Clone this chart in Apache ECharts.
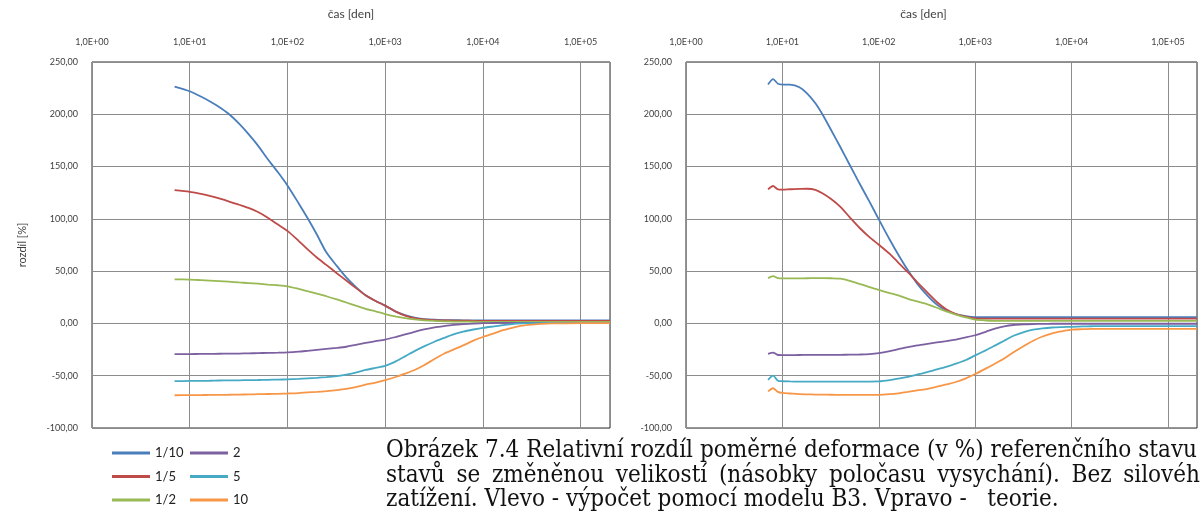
<!DOCTYPE html>
<html>
<head>
<meta charset="utf-8">
<script src="https://cdn.jsdelivr.net/npm/echarts@6/dist/echarts.min.js"></script>
<style>
  html, body { margin: 0; padding: 0; background: #ffffff; overflow: hidden; }
  #chart { width: 1200px; height: 515px; }
</style>
</head>
<body>
<div id="chart"></div>
<script>
// ---- data -------------------------------------------------------------
const SERIES_NAMES = ['1/10', '1/5', '1/2', '2', '5', '10'];
const X_TICK_LABELS = ['1,0E+00', '1,0E+01', '1,0E+02', '1,0E+03', '1,0E+04', '1,0E+05'];

// B3 model (left panel): time in days and relative difference in %
const LEFT_DAYS = [7, 10, 13, 16, 20, 25, 32, 40, 50, 63, 80, 100, 130, 160, 200, 250, 320, 400, 500, 630,
  800, 1000, 1300, 1600, 2000, 2500, 3200, 4000, 5000, 6300, 8000, 10000, 13000, 16000, 20000, 25000,
  32000, 40000, 50000, 100000, 200000];
const LEFT_1_10 = [226.5, 222, 217, 212.5, 207, 200.5, 191, 181, 170, 157, 144.5, 132, 115, 101, 85, 68, 55,
  44, 35, 27, 21.5, 17, 11, 8, 5.5, 4.2, 3.5, 3.2, 3.1, 3, 3, 3, 3, 3, 3, 3, 3, 3, 3, 3, 3];
const LEFT_1_5 = [127.5, 125.9, 124, 122, 119.5, 116.8, 113.5, 110.5, 106.5, 101, 94.5, 88.5, 79, 71, 63, 56,
  48, 41, 34, 27, 21.5, 17, 11, 7.5, 5, 3.8, 3.2, 2.9, 2.7, 2.6, 2.5, 2.5, 2.5, 2.5, 2.5, 2.5, 2.5, 2.5, 2.5, 2.5, 2.5];
const LEFT_1_2 = [42.2, 41.9, 41.4, 41, 40.5, 39.9, 39.2, 38.6, 38, 37.2, 36.5, 35.5, 33, 30.8, 28.5, 26, 23,
  20, 17, 14, 11.5, 9, 6.5, 5, 3.8, 3, 2.4, 2, 1.8, 1.7, 1.6, 1.5, 1.5, 1.5, 1.5, 1.5, 1.5, 1.5, 1.5, 1.5, 1.5];
const LEFT_2 = [-29.4, -29.3, -29.2, -29.1, -29, -28.9, -28.8, -28.6, -28.4, -28.2, -28, -27.7, -27, -26.2,
  -25.3, -24.4, -23.4, -22.3, -20.5, -18.7, -17, -15.5, -12.8, -10.5, -8, -5.8, -3.8, -2.5, -1.4, -0.7, -0.2,
  0.2, 0.4, 0.5, 0.5, 0.5, 0.5, 0.5, 0.5, 0.5, 0.5];
const LEFT_5 = [-55.2, -55, -54.9, -54.8, -54.6, -54.5, -54.4, -54.2, -54.1, -53.9, -53.7, -53.5, -53.1, -52.6,
  -52, -51.3, -50.3, -49, -47, -44.5, -42.5, -40.6, -36, -31.5, -26.5, -22, -17.5, -13.9, -10.5, -7.8, -5.8,
  -4.2, -2.8, -1.7, -0.6, 0, 0.3, 0.4, 0.5, 0.5, 0.5];
const LEFT_10 = [-68.7, -68.6, -68.5, -68.4, -68.3, -68.2, -68, -67.9, -67.7, -67.5, -67.3, -67, -66.6, -66,
  -65.5, -64.8, -63.8, -62.6, -60.8, -58.5, -56.5, -54.2, -51, -48, -44.5, -40, -34, -29, -25, -21, -16.5,
  -13, -9.5, -6.5, -4.2, -2.2, -1.1, -0.4, 0, 0.2, 0.2];

// theory (right panel)
const RIGHT_DAYS = [7.1, 8, 9, 10, 12, 15, 18, 22, 26, 32, 40, 50, 63, 80, 100, 130, 160, 200, 250, 320, 400,
  500, 630, 800, 1000, 1300, 1600, 2000, 2500, 3200, 4000, 5000, 6300, 8000, 10000, 13000, 16000, 20000,
  32000, 50000, 100000, 200000];
const RIGHT_1_10 = [228.5, 233.7, 229.2, 228.4, 228.3, 225.8, 220, 210.5, 200, 185, 168.5, 151.5, 134, 116.5,
  99.5, 80, 65.5, 51, 38, 26.5, 18, 12.5, 9, 7, 6, 5.9, 5.9, 5.9, 5.9, 5.9, 5.9, 5.9, 5.9, 5.9, 5.9, 5.9, 5.9,
  5.9, 5.9, 5.9, 5.9, 5.9];
const RIGHT_1_5 = [128.2, 131.4, 128.2, 128, 128.3, 128.6, 128.8, 127.8, 124.5, 119, 111.5, 101.5, 91.5, 82.5,
  75.3, 66.5, 58, 49, 39.5, 29.5, 20.5, 13.5, 9, 6.5, 4.8, 4.6, 4.5, 4.5, 4.5, 4.5, 4.5, 4.5, 4.5, 4.5, 4.5,
  4.5, 4.5, 4.5, 4.5, 4.5, 4.5, 4.5];
const RIGHT_1_2 = [43.3, 45.2, 43.3, 43, 43, 43.1, 43.2, 43.3, 43.3, 43.2, 42.8, 40.8, 37.8, 34.8, 32, 29, 26.8,
  23.5, 21, 18.2, 15, 11.5, 8.5, 5.7, 3.6, 2.8, 2.5, 2.4, 2.4, 2.4, 2.4, 2.4, 2.4, 2.4, 2.4, 2.4, 2.4, 2.4,
  2.4, 2.4, 2.4, 2.4];
const RIGHT_2 = [-29.2, -27.9, -30.2, -30.3, -30.3, -30.2, -30.1, -30, -30, -30, -30, -29.9, -29.7, -29.3, -28.4,
  -26.5, -24.6, -22.6, -21, -19.5, -18.2, -16.9, -15.4, -13.4, -11.3, -7.8, -5, -2.8, -1.5, -0.9, -0.6, -0.4,
  -0.3, -0.3, -0.3, -0.3, -0.3, -0.3, -0.3, -0.3, -0.3, -0.3];
const RIGHT_5 = [-54, -50, -54.8, -55.3, -55.5, -55.6, -55.6, -55.6, -55.6, -55.6, -55.6, -55.6, -55.6, -55.6,
  -55.5, -54.3, -52.8, -51, -48.9, -46.5, -44, -41.5, -38.5, -35, -30.6, -25.5, -21.2, -16.5, -11.8, -8.3,
  -6, -4.7, -3.9, -3.5, -3.2, -2.9, -2.7, -2.5, -2.5, -2.5, -2.5, -2.5];
const RIGHT_10 = [-65, -62, -65.5, -66.5, -67, -67.6, -67.8, -68, -68.1, -68.2, -68.3, -68.3, -68.3, -68.3,
  -68.3, -67.7, -66.8, -65.5, -64, -62.5, -60.5, -58.3, -56, -52.5, -48.4, -43, -38.5, -33.5, -27.5, -21.5,
  -16.5, -12.5, -9.5, -7.5, -5.9, -5.5, -5.3, -5.2, -5.2, -5.2, -5.2, -5.2];

const CAPTION_LINES = [
  'Obrázek 7.4 Relativní rozdíl poměrné deformace (v %) referenčního stavu',
  'stavů se změněnou velikostí (násobky poločasu vysychání). Bez silového',
  'zatížení. Vlevo - výpočet pomocí modelu B3. Vpravo -   teorie.'
];

// ---- styling ---------------------------------------------------------------
const LINE_COLORS = ['#4a7ebb', '#be4b48', '#98b954', '#7d60a0', '#46aac5', '#f79646'];
const UI_FONT = 'Lato, "Open Sans", sans-serif';
const TEXT_COLOR = '#404040';
const GRID_LINE = '#8c8c8c';

const LEFT_SETS = [LEFT_1_10, LEFT_1_5, LEFT_1_2, LEFT_2, LEFT_5, LEFT_10];
const RIGHT_SETS = [RIGHT_1_10, RIGHT_1_5, RIGHT_1_2, RIGHT_2, RIGHT_5, RIGHT_10];

// caption font: a condensed serif if present, otherwise Liberation Serif;
// the size is chosen so that the last (unjustified) line spans the paragraph measure
const measureCtx = document.createElement('canvas').getContext('2d');
function fontAvailable(name) {
  const probe = 'Obrázek zatížení 0123456789';
  measureCtx.font = '40px monospace';
  const a = measureCtx.measureText(probe).width;
  measureCtx.font = '40px "' + name + '", monospace';
  return Math.abs(measureCtx.measureText(probe).width - a) > 0.5;
}
const CAPTION_FONT = fontAvailable('DejaVu Serif Condensed') ? '"DejaVu Serif Condensed", serif' : '"Liberation Serif", serif';
const LAST_LINE_WIDTH = 672;
measureCtx.font = '20px ' + CAPTION_FONT;
const CAPTION_SIZE = Math.round(20 * LAST_LINE_WIDTH / measureCtx.measureText(CAPTION_LINES[2]).width * 10) / 10;
const CAPTION_CSS = CAPTION_SIZE + 'px ' + CAPTION_FONT;
measureCtx.font = CAPTION_CSS;

function xAxis(gridIndex, nameShift) {
  return {
    type: 'log', logBase: 10, gridIndex: gridIndex, position: 'top', min: 1, max: 200000,
    name: 'čas [den]', nameLocation: 'middle', nameGap: 42,
    nameTextStyle: { fontFamily: UI_FONT, fontSize: 12, color: TEXT_COLOR, padding: [0, nameShift, 0, 0] },
    axisLine: { show: false }, axisTick: { show: false },
    axisLabel: {
      margin: 15, fontFamily: UI_FONT, fontSize: 9, color: TEXT_COLOR,
      formatter: function (v) {
        const e = Math.log10(v), r = Math.round(e);
        return Math.abs(e - r) < 1e-6 && X_TICK_LABELS[r] ? X_TICK_LABELS[r] : '';
      }
    },
    splitLine: { show: true, lineStyle: { color: GRID_LINE, width: 1 } }
  };
}

function yAxis(gridIndex, name) {
  return {
    type: 'value', gridIndex: gridIndex, min: -100, max: 250, interval: 50,
    name: name, nameLocation: 'middle', nameGap: 64, nameRotate: 90,
    nameTextStyle: { fontFamily: UI_FONT, fontSize: 11, color: TEXT_COLOR },
    axisLine: { show: false }, axisTick: { show: false },
    axisLabel: {
      margin: 14, fontFamily: UI_FONT, fontSize: 9, color: TEXT_COLOR,
      formatter: function (v) { return v.toFixed(2).replace('.', ','); }
    },
    splitLine: { show: true, lineStyle: { color: GRID_LINE, width: 1 } }
  };
}

function panelSeries(days, sets, axisIndex) {
  return sets.map(function (vals, i) {
    return {
      name: SERIES_NAMES[i], type: 'line', xAxisIndex: axisIndex, yAxisIndex: axisIndex,
      data: days.map(function (d, k) { return [d, vals[k]]; }),
      showSymbol: false, symbol: 'none', smooth: 0.25,
      lineStyle: { width: 1.8, color: LINE_COLORS[i] },
      itemStyle: { color: LINE_COLORS[i] }
    };
  });
}

// caption words; justified lines stretch so the last visible word reaches rightEdge
function captionWords(line, x0, y, rightEdge, visibleTail) {
  const style = function (t) { return { text: t, font: CAPTION_CSS, fill: '#111111', verticalAlign: 'middle' }; };
  if (rightEdge == null) {
    return [{ type: 'text', x: x0, y: y, style: style(line) }];
  }
  const words = line.split(' ');
  const widths = words.map(function (w, i) {
    const t = (i === words.length - 1 && visibleTail) ? visibleTail : w;
    return measureCtx.measureText(t).width;
  });
  const total = widths.reduce(function (a, b) { return a + b; }, 0);
  const gap = (rightEdge - x0 - total) / (words.length - 1);
  let x = x0;
  return words.map(function (w, i) {
    const el = { type: 'text', x: x, y: y, style: style(w) };
    x += widths[i] + gap;
    return el;
  });
}

const legendBase = {
  orient: 'vertical', top: 445, padding: 0, itemWidth: 38, itemHeight: 3, itemGap: 7.5, icon: 'rect',
  textStyle: { fontFamily: UI_FONT, fontSize: 13, color: '#222222', lineHeight: 16 }
};

const chart = echarts.init(document.getElementById('chart'), null, { renderer: 'canvas' });
chart.setOption({
  animation: false,
  backgroundColor: '#ffffff',
  grid: [
    { left: 92, top: 62, width: 518, height: 366, show: true, borderColor: '#2b2b2b', borderWidth: 1, backgroundColor: 'transparent' },
    { left: 686, top: 62, width: 518, height: 366, show: true, borderColor: '#2b2b2b', borderWidth: 1, backgroundColor: 'transparent' }
  ],
  xAxis: [xAxis(0, 0), xAxis(1, 36)],
  yAxis: [yAxis(0, 'rozdíl [%]'), yAxis(1, '')],
  legend: [
    Object.assign({}, legendBase, { left: 112, data: SERIES_NAMES.slice(0, 3) }),
    Object.assign({}, legendBase, { left: 190, data: SERIES_NAMES.slice(3) })
  ],
  series: panelSeries(LEFT_DAYS, LEFT_SETS, 0).concat(panelSeries(RIGHT_DAYS, RIGHT_SETS, 1)),
  graphic: [].concat(
    captionWords(CAPTION_LINES[0], 386, 451, 1197),
    captionWords(CAPTION_LINES[1], 386, 476, 1200, 'silovéh'),
    captionWords(CAPTION_LINES[2], 386, 500, null)
  )
});
</script>
</body>
</html>
